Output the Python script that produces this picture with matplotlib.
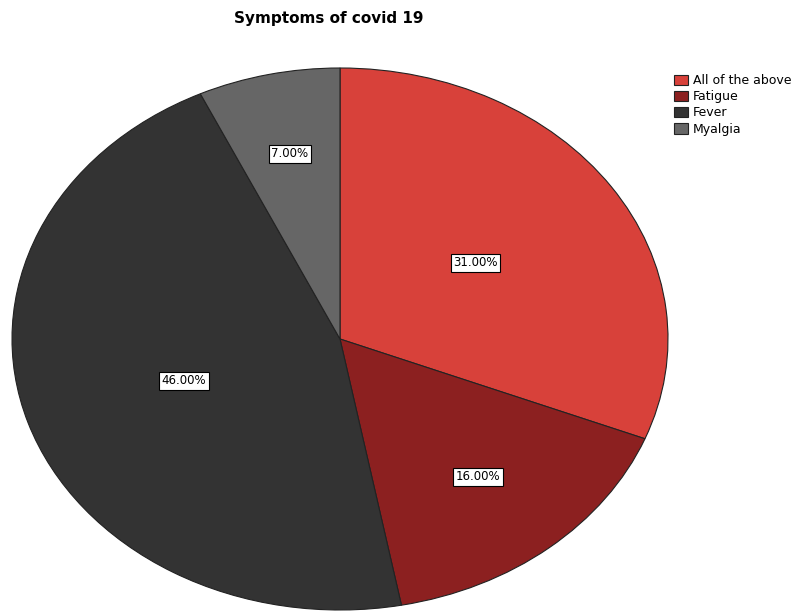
import numpy as np
import matplotlib.pyplot as plt

plt.rcParams['font.family'] = ['DejaVu Sans']

# Symptom shares (percent)
symptoms = ["All of the above", "Fatigue", "Fever", "Myalgia"]
shares = [31.0, 16.0, 46.0, 7.0]
colors = ["#d8413a", "#8c2020", "#333333", "#666666"]
label_radius = [0.5, 0.66, 0.5, 0.7]

fig = plt.figure(figsize=(7.99, 6.12), dpi=100)
W, H = 799, 612
# pie axes stretched horizontally, bottom edge touching the image border
ax = fig.add_axes([12 / W, 2 / H, 656 / W, 542 / H])

wedges, _ = ax.pie(shares, colors=colors, startangle=90, counterclock=False,
                   wedgeprops=dict(edgecolor="#222222", linewidth=0.8))
ax.set_aspect("auto")
ax.set_xlim(-1, 1)
ax.set_ylim(-1, 1)

# percentage boxes at the middle of each wedge
cum = np.cumsum([0] + shares)
for val, start, r in zip(shares, cum[:-1], label_radius):
    mid = np.deg2rad(90 - 360 * (start + val / 2) / 100)
    ax.text(r * np.cos(mid), r * np.sin(mid), f"{val:.2f}%",
            ha="center", va="center", fontsize=8.5, color="black",
            bbox=dict(boxstyle="square,pad=0.2", facecolor="white",
                      edgecolor="black", linewidth=0.8))

fig.text(329 / W, 1 - 18 / H, "Symptoms of covid 19", ha="center", va="center",
         fontsize=11, fontweight="bold")

fig.legend(wedges, symptoms, loc="upper left", bbox_to_anchor=(668 / W, 1 - 68 / H),
           frameon=False, fontsize=9, handlelength=1.1, handleheight=0.9,
           handletextpad=0.4, labelspacing=0.25, borderpad=0)

fig.savefig("out.png", dpi=100, facecolor="white")
